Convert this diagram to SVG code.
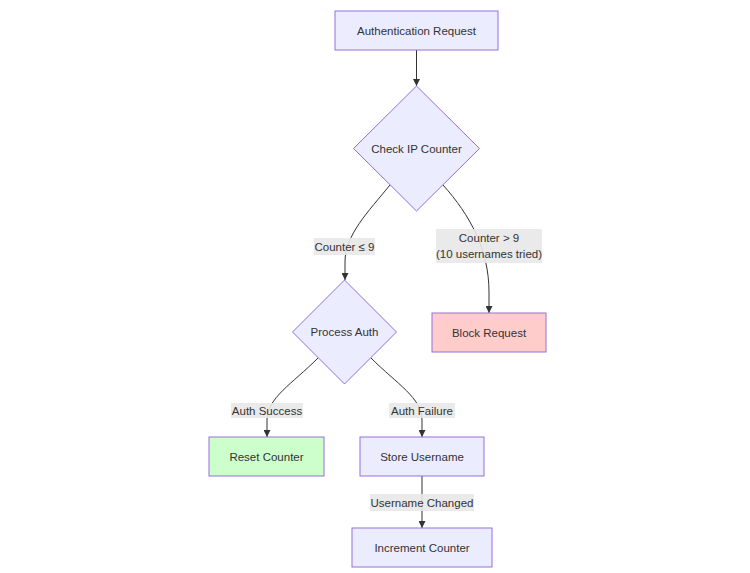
<svg xmlns="http://www.w3.org/2000/svg" width="750" height="573" viewBox="0 0 750 573">
<style>
.node{fill:#ECECFF;stroke:#9370DB;stroke-width:1}
.red{fill:#ffcccc}
.green{fill:#ccffcc}
.t{font-family:"Liberation Sans",Arial,sans-serif;font-size:11.5px;fill:#333;text-anchor:middle;dominant-baseline:central}
.edge{fill:none;stroke:#333;stroke-width:1}
.lbl{fill:#e8e8e8;opacity:0.9}
</style>
<defs>
<marker id="arr" markerUnits="userSpaceOnUse" markerWidth="7" markerHeight="7" viewBox="0 0 7 7" refX="7" refY="3.5" orient="auto">
<path d="M0,0 L7,3.5 L0,7 z" fill="#333"/>
</marker>
</defs>
<rect width="750" height="573" fill="#fff"/>
<g id="connectors">
<path class="edge" d="M416.5,50 L416.5,86" marker-end="url(#arr)"/>
<path class="edge" d="M390,185 C368,212 345,235 345,262 L345,280" marker-end="url(#arr)"/>
<path class="edge" d="M443,185 C470,215 489,250 489,292 L489,313" marker-end="url(#arr)"/>
<path class="edge" d="M318,358 C292,384 267,398 267,420 L267,437" marker-end="url(#arr)"/>
<path class="edge" d="M371,358 C397,384 422,398 422,420 L422,437" marker-end="url(#arr)"/>
<path class="edge" d="M422,476 L422,528" marker-end="url(#arr)"/>
<g id="edge-labels">
<rect class="lbl" x="314" y="238" width="61" height="17"/>
<text class="t" x="344.5" y="246.5">Counter ≤ 9</text>
<rect class="lbl" x="436" y="229" width="106" height="34"/>
<text class="t" x="489" y="238">Counter &gt; 9</text>
<text class="t" x="489" y="254">(10 usernames tried)</text>
<rect class="lbl" x="231" y="403" width="72" height="15"/>
<text class="t" x="267" y="410.5">Auth Success</text>
<rect class="lbl" x="389" y="403" width="66" height="15"/>
<text class="t" x="422" y="410.5">Auth Failure</text>
<rect class="lbl" x="370" y="494" width="104" height="17"/>
<text class="t" x="422" y="502.5">Username Changed</text>
</g>
</g>
<g id="authRequest">
<rect class="node" x="335" y="11" width="163" height="39"/>
<text class="t" x="416.5" y="30.5">Authentication Request</text>
</g>
<g id="checkIP">
<polygon class="node" points="416.5,86 479.5,148.5 416.5,211 353.5,148.5"/>
<text class="t" x="416.5" y="148.5">Check IP Counter</text>
</g>
<g id="processAuth">
<polygon class="node" points="344.5,280 396.5,332 344.5,384 292.5,332"/>
<text class="t" x="344.5" y="332">Process Auth</text>
</g>
<g id="blockRequest">
<rect class="node red" x="432" y="313" width="114" height="39"/>
<text class="t" x="489" y="332.5">Block Request</text>
</g>
<g id="resetCounter">
<rect class="node green" x="209" y="437" width="115" height="39"/>
<text class="t" x="266.5" y="456.5">Reset Counter</text>
</g>
<g id="storeUsername">
<rect class="node" x="360" y="437" width="124" height="39"/>
<text class="t" x="422" y="456.5">Store Username</text>
</g>
<g id="incrementCounter">
<rect class="node" x="352" y="528" width="140" height="39"/>
<text class="t" x="422" y="547.5">Increment Counter</text>
</g>
</svg>
